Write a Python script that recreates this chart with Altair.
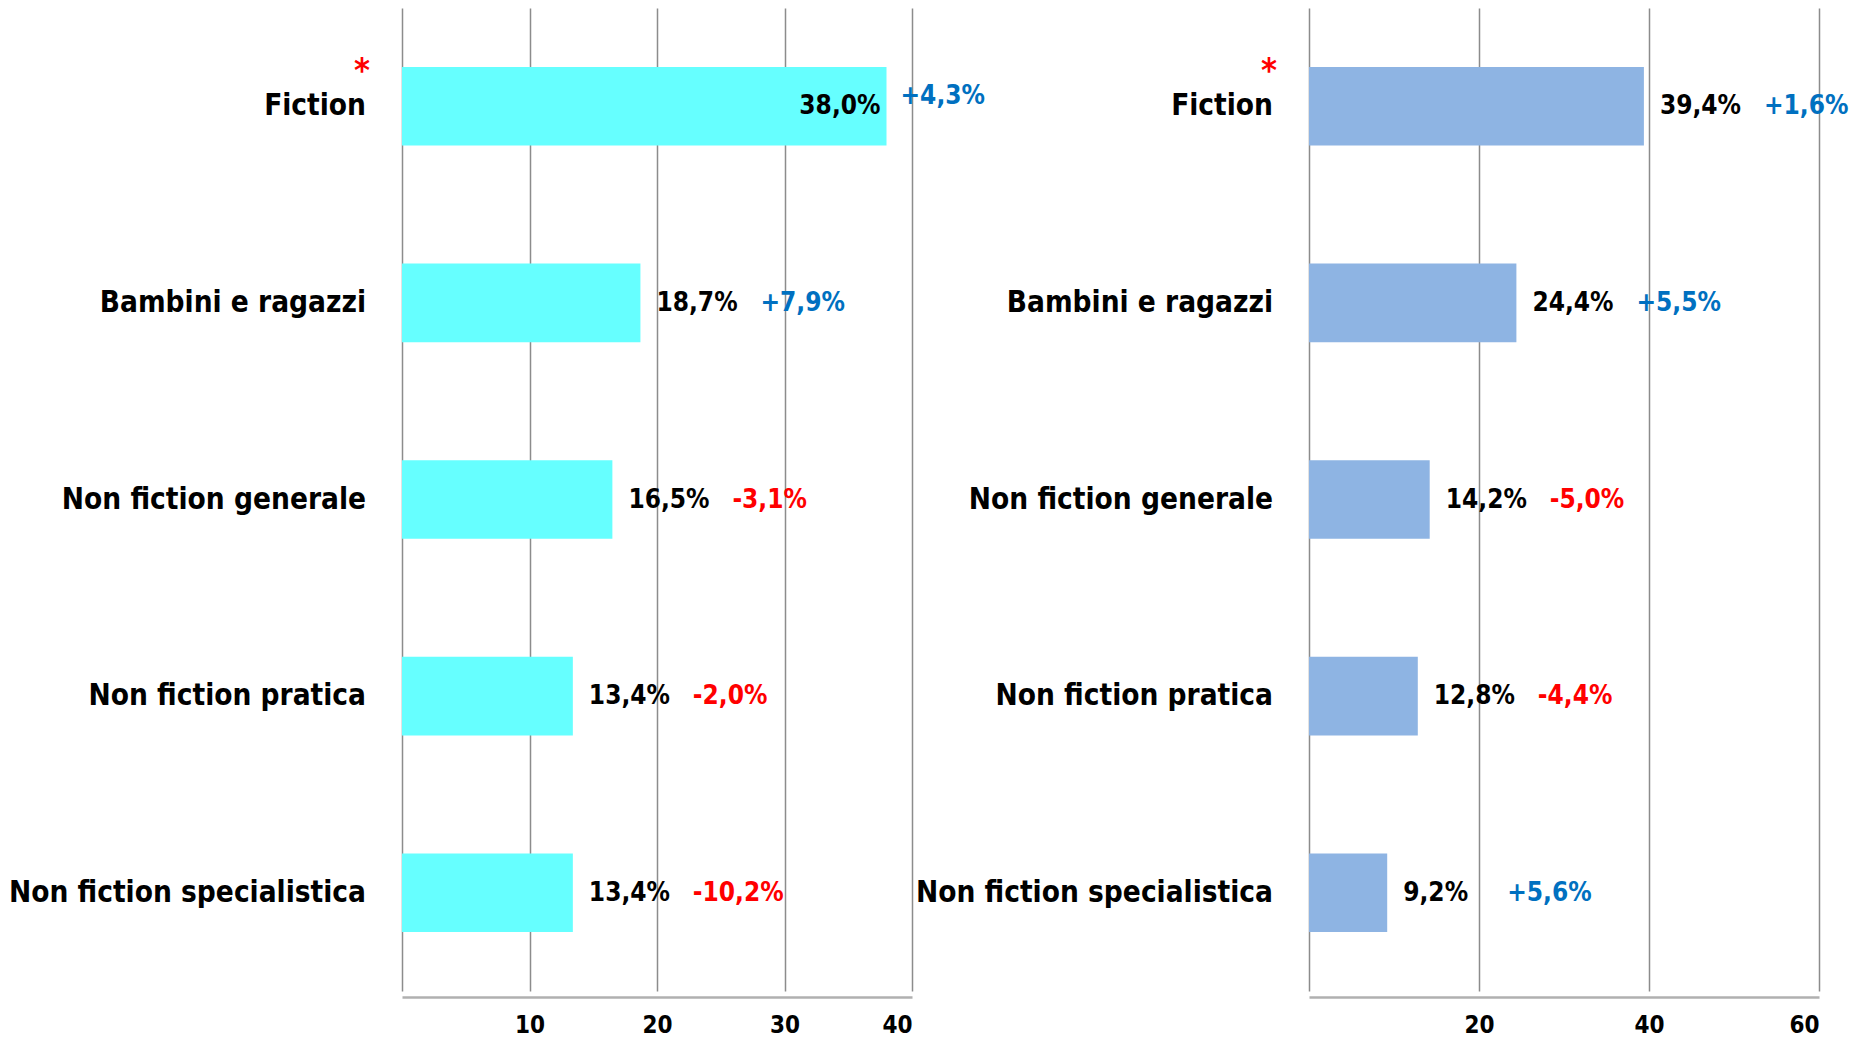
import altair as alt
import pandas as pd

categories = ["Fiction", "Bambini e ragazzi", "Non fiction generale", "Non fiction pratica", "Non fiction specialistica"]
left_values = [38.0, 18.7, 16.5, 13.4, 13.4]
left_changes = ["+4,3%", "+7,9%", "-3,1%", "-2,0%", "-10,2%"]
right_values = [39.4, 24.4, 14.2, 12.8, 9.2]
right_changes = ["+1,6%", "+5,5%", "-5,0%", "-4,4%", "+5,6%"]
left_ticks = [0, 10, 20, 30, 40]
right_ticks = [0, 20, 40, 60]

FONT = "DejaVu Sans Condensed, DejaVu Sans, sans-serif"
BLUE = "#0070C0"
RED = "#FF0000"


def make_df(values, changes, dmax):
    df = pd.DataFrame({"cat": categories, "value": values, "change": changes})
    df["label"] = df["value"].map(lambda v: f"{v:.1f}".replace(".", ",") + "%")
    df["sign"] = df["change"].str[0]
    df["inside"] = df["value"] > 0.9 * dmax
    return df


def panel(values, changes, ticks, color):
    dmax = ticks[-1]
    df = make_df(values, changes, dmax)
    ysc = alt.Scale(domain=categories, paddingInner=0.6, paddingOuter=0.3)
    xsc = alt.Scale(domain=[0, dmax], nice=False)
    base = alt.Chart(df).encode(
        y=alt.Y("cat:N", scale=ysc, sort=categories, axis=None)
    )
    bars = base.mark_bar(color=color).encode(
        x=alt.X(
            "value:Q",
            scale=xsc,
            title=None,
            axis=alt.Axis(
                values=ticks,
                labelExpr="datum.value == 0 ? '' : datum.label",
                grid=True,
                gridColor="#8c8c8c",
                gridWidth=1.5,
                ticks=False,
                domain=True,
                domainColor="#b0b0b0",
                domainWidth=2.5,
                offset=6,
                labelFont=FONT,
                labelFontSize=24,
                labelFontWeight="bold",
                labelColor="#000000",
                labelPadding=16,
            ),
        )
    )
    cat_labels = base.mark_text(
        align="right", baseline="middle", font=FONT, fontSize=29.5, fontWeight="bold", color="#000000", dx=-36
    ).encode(x=alt.value(0), text="cat:N")
    star = base.transform_filter(alt.datum.cat == "Fiction").mark_text(
        align="center", baseline="middle", font=FONT, fontSize=34, fontWeight="bold", color=RED, dx=-40, dy=-34
    ).encode(x=alt.value(0), text=alt.value("*"))
    val_out = base.transform_filter("!datum.inside").mark_text(
        align="left", baseline="middle", font=FONT, fontSize=26, fontWeight="bold", color="#000000", dx=16
    ).encode(x=alt.X("value:Q", scale=xsc), text="label:N")
    val_in = base.transform_filter("datum.inside").mark_text(
        align="right", baseline="middle", font=FONT, fontSize=26, fontWeight="bold", color="#000000", dx=-6
    ).encode(x=alt.X("value:Q", scale=xsc), text="label:N")
    chg_color = alt.Color(
        "sign:N", scale=alt.Scale(domain=["+", "-"], range=[BLUE, RED]), legend=None
    )
    chg_out = base.transform_filter("!datum.inside").mark_text(
        align="left", baseline="middle", font=FONT, fontSize=26, fontWeight="bold", dx=120
    ).encode(x=alt.X("value:Q", scale=xsc), text="change:N", color=chg_color)
    chg_in = base.transform_filter("datum.inside").mark_text(
        align="left", baseline="middle", font=FONT, fontSize=26, fontWeight="bold", dx=14, dy=-10
    ).encode(x=alt.X("value:Q", scale=xsc), text="change:N", color=chg_color)
    return alt.layer(bars, cat_labels, star, val_out, val_in, chg_out, chg_in).properties(
        width=510, height=983
    )


left = panel(left_values, left_changes, left_ticks, "#66FFFF")
right = panel(right_values, right_changes, right_ticks, "#8EB4E3")

chart = alt.hconcat(left, right, spacing=397, bounds="flush").configure_view(stroke=None).properties(
    padding={"left": 0, "top": 0, "right": 0, "bottom": 0}
)

chart.save("out.html", embed_options={"renderer": "svg", "actions": False})
